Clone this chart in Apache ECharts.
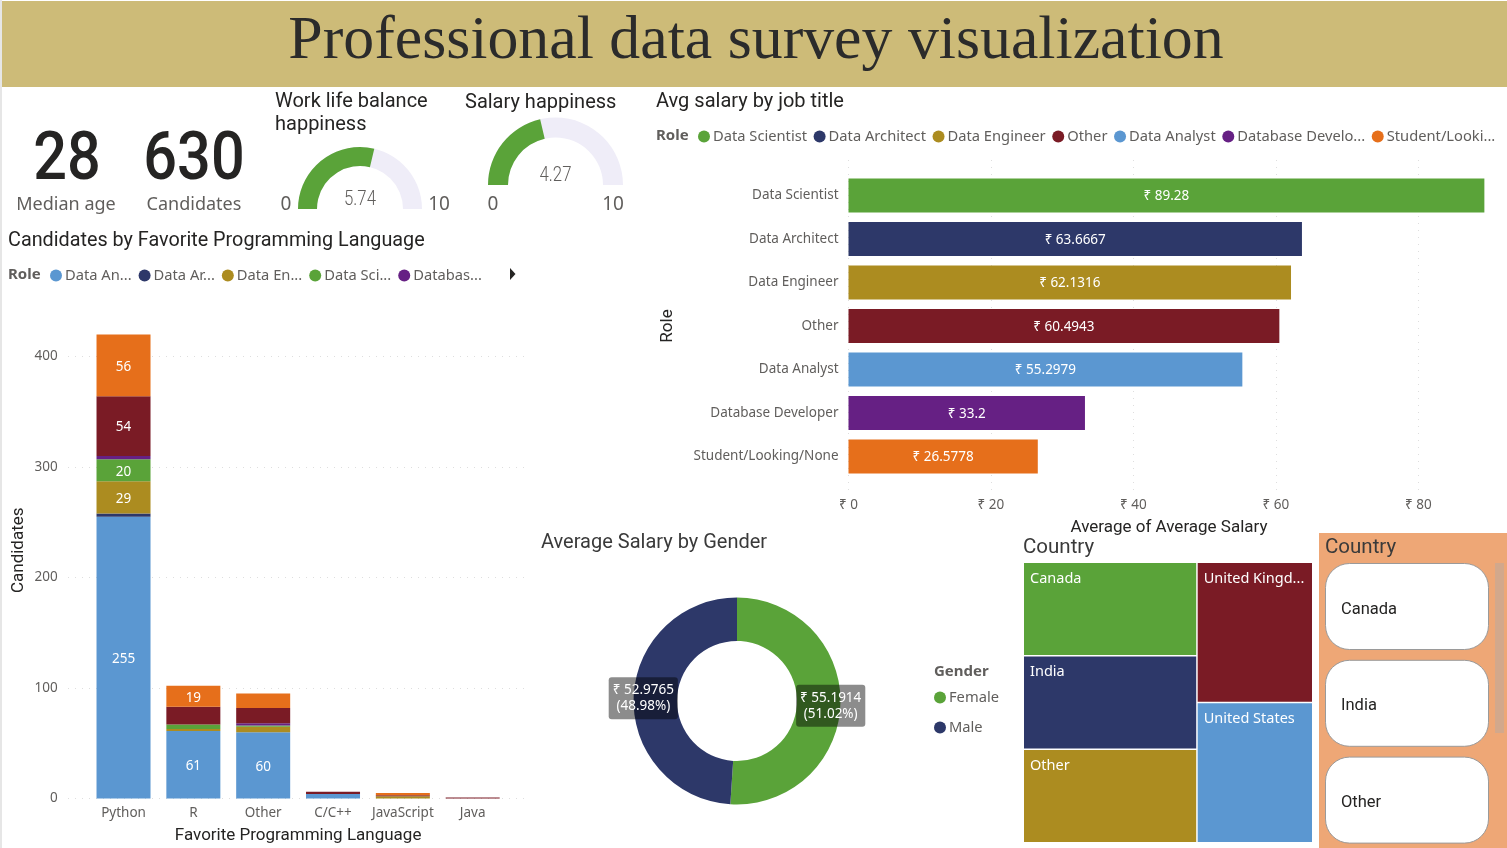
<!DOCTYPE html>
<html><head><meta charset="utf-8">
<style>html,body{margin:0;padding:0;background:#fff;overflow:hidden}#c{width:1507px;height:848px}</style>
<script src="https://cdn.jsdelivr.net/npm/echarts@6/dist/echarts.min.js"></script>
</head><body><div id="c"></div>
<script>
const roles=['Data Analyst','Data Architect','Data Engineer','Data Scientist','Database Developer','Other','Student/Looking/None'];
const roleColors=['#5B97D1','#2D3869','#AC8C20','#5AA339','#662084','#7A1B25','#E66F1B'];
const languages=['Python','R','Other','C/C++','JavaScript','Java'];
const analyst=[255,61,60,4,0,0];
const architect=[3,0,0,0,0,0];
const engineer=[29,2,5,0,2,0];
const scientist=[20,4,1,0,0,0];
const developer=[3,0,2,0,0,0];
const otherRole=[54,16,14,2,1,1];
const student=[56,19,13,0,2,0];
const stacks=[analyst,architect,engineer,scientist,developer,otherRole,student];
const jobOrder=['Data Scientist','Data Architect','Data Engineer','Other','Data Analyst','Database Developer','Student/Looking/None'];
const jobSalary=[89.28,63.6667,62.1316,60.4943,55.2979,33.2,26.5778];
const genders=['Female','Male'];
const genderSalary=[55.1914,52.9765];
const genderColors=['#5AA339','#2D3869'];
const countries=['Canada','India','Other','United Kingdom','United States'];
const countrySize=[15.9,15.9,15.9,15.9,15.9];
const countryColors=['#5AA339','#2D3869','#AC8C20','#7A1B25','#5B97D1'];
const countryShort={'United Kingdom':'United Kingd...'};
const slicerItems=['Canada','India','Other'];
const medianAge='28', candidates='630';
const workLife=5.74, salaryHappy=4.27;
const legendLeftShort={'Data Analyst':'Data An...','Data Architect':'Data Ar...','Data Engineer':'Data En...','Data Scientist':'Data Sci...','Database Developer':'Databas...'};
const legendTopShort={'Database Developer':'Database Develo...','Student/Looking/None':'Student/Looki...'};

const body='"Noto Sans"', din='Roboto';
const dark='#252423', grey='#605E5C';
function t(text,x,y,font,fill,align,extra){return Object.assign({type:'text',x:x,y:y,silent:true,z:5,style:{text:text,font:font,fill:fill,align:align||'left',verticalAlign:'middle'}},extra||{});}
const g=[];
g.push({type:'rect',shape:{x:0,y:0,width:1507,height:848},style:{fill:'#fff'},z:-10,silent:true});
g.push({type:'rect',shape:{x:0,y:0,width:2,height:848},style:{fill:'#E6E6E6'},z:-9,silent:true});
g.push({type:'rect',shape:{x:2,y:1,width:1505,height:86},style:{fill:'#CDBB78'},z:-9,silent:true});
g.push(t('Professional data survey visualization',756,42,'61.8px "Liberation Serif"','#2b2b2b','center'));
g.push(t(medianAge,67,162,'500 66px '+din,dark,'center',{scaleX:0.9}));
g.push(t(candidates,194,162,'500 66px '+din,dark,'center',{scaleX:0.9}));
g.push(t('Median age',66,205,'18px '+body,grey,'center'));
g.push(t('Candidates',194,205,'18px '+body,grey,'center'));
g.push(t('Work life balance',275,102,'20px '+din,dark));
g.push(t('happiness',275,125,'20px '+din,dark));
g.push(t('Salary happiness',465,103,'20px '+din,dark));
g.push(t('Avg salary by job title',656,102,'20px '+din,dark));
g.push(t('Candidates by Favorite Programming Language',8,241,'19.8px '+din,dark));
g.push(t('Average Salary by Gender',541,543,'20px '+din,'#3a3a3a'));
g.push(t('Country',1023,548,'20.5px '+din,'#3a3a3a'));
g.push(t('0',286,205,'19px '+body,grey,'center'));
g.push(t('10',439,205,'19px '+body,grey,'center'));
g.push(t('0',493,205,'19px '+body,grey,'center'));
g.push(t('10',613,205,'19px '+body,grey,'center'));
g.push(t(String(workLife),360,200,'300 21px '+din,grey,'center',{scaleX:0.8}));
g.push(t(String(salaryHappy),555.5,176,'300 21px '+din,grey,'center',{scaleX:0.8}));
g.push(t('Role',8,275,'bold 15px '+body,grey));
g.push(t('Role',656,136,'bold 15px '+body,grey));
g.push(t('Gender',934,672,'bold 15px '+body,grey));
g.push({type:'polygon',shape:{points:[[510,268],[510,280],[515.5,274]]},style:{fill:'#252423'},z:5,silent:true});
// slicer panel
g.push({type:'rect',shape:{x:1319,y:533,width:188,height:315},style:{fill:'#EEA776'},z:-8,silent:true});
g.push(t('Country',1325,548,'20.5px '+din,'#3a3a3a'));
g.push({type:'rect',shape:{x:1495,y:563,width:9,height:170},style:{fill:'#D2A88C'},z:-7,silent:true});
slicerItems.forEach(function(s,i){
  const y=563.5+i*96.8;
  g.push({type:'rect',shape:{x:1325.5,y:y,width:163,height:86,r:24},style:{fill:'#fff',stroke:'#9a9a9a',lineWidth:1},z:-7,silent:true});
  g.push(t(s,1341,y+46,'16.5px '+din,dark));
});

const series=[];
roles.forEach(function(r,i){
  series.push({name:r,type:'bar',stack:'lang',xAxisIndex:1,yAxisIndex:1,barWidth:54,data:stacks[i],
    itemStyle:{color:roleColors[i]},
    label:{show:true,position:'inside',color:'#fff',fontFamily:body,fontSize:13.5,offset:[0,1.5],
      formatter:function(p){return p.value>=19?String(p.value):'';}}});
});
jobOrder.forEach(function(r,i){
  const d=jobSalary.map(function(v,k){return k===i?v:null;});
  series.push({name:r,type:'bar',stack:'job',xAxisIndex:3,yAxisIndex:3,barWidth:34,data:d,
    itemStyle:{color:roleColors[roles.indexOf(r)]},
    label:{show:true,position:'inside',color:'#fff',fontFamily:body,fontSize:13.5,offset:[0,1],formatter:'₹ {c}'}});
});
function gauge(cx,cy,R,w,val){return {type:'gauge',center:[cx,cy],radius:R,startAngle:180,endAngle:0,min:0,max:10,
  progress:{show:true,width:w,itemStyle:{color:'#5AA339'}},
  axisLine:{lineStyle:{width:w,color:[[1,'#EFEDF8']]}},
  axisTick:{show:false},splitLine:{show:false},axisLabel:{show:false},pointer:{show:false},title:{show:false},anchor:{show:false},
  detail:{show:false},
  data:[{value:val}]};}
series.push(gauge(360,209,62,19,workLife));
series.push(gauge(555.5,185,67.5,20,salaryHappy));
series.push({type:'pie',name:'Average Salary by Gender',center:[737,701],radius:[60,103.5],startAngle:90,clockwise:true,
  data:genders.map(function(n,i){return {name:n,value:genderSalary[i],itemStyle:{color:genderColors[i]},
    label:{offset:[i===0?9:-9,i===0?2:0]}};}),
  label:{show:true,position:'inside',formatter:'₹ {c}\n({d}%)',color:'#fff',fontFamily:body,fontSize:13.5,lineHeight:16,
    backgroundColor:'rgba(0,0,0,0.45)',borderRadius:3,padding:[5,4,5,4]},
  labelLine:{show:false},emphasis:{disabled:true}});
series.push({type:'treemap',name:'Country',left:1024,top:563,width:288,height:279,roam:false,nodeClick:false,sort:false,
  breadcrumb:{show:false},
  itemStyle:{gapWidth:1.5,borderWidth:0},
  label:{show:true,position:'insideTopLeft',color:'#fff',fontFamily:body,fontSize:14.5,distance:6,padding:[2,0,0,0],
    formatter:function(p){return countryShort[p.name]||p.name;}},
  data:countries.map(function(n,i){return {name:n,value:countrySize[i],itemStyle:{color:countryColors[i]}};})});

const axisFont={color:grey,fontFamily:body,fontSize:13.5};
const dotted={show:true,lineStyle:{color:'#DEDEDE',type:[1,6],width:1}};
const noBounds={outerBoundsMode:'none'};
const opt={
  animation:false,
  textStyle:{fontFamily:body},
  graphic:{elements:g},
  tooltip:{show:false},
  legend:[
    {data:roles.slice(0,5),left:50,top:268,padding:0,itemWidth:12,itemHeight:12,itemGap:7,icon:'circle',selectedMode:false,
     textStyle:{color:grey,fontFamily:body,fontSize:14.7,padding:[0,0,0,-2]},formatter:function(n){return legendLeftShort[n];}},
    {data:jobOrder,left:698,top:129,padding:0,itemWidth:12,itemHeight:12,itemGap:6.6,icon:'circle',selectedMode:false,
     textStyle:{color:grey,fontFamily:body,fontSize:14.7,padding:[0,0,0,-2]},formatter:function(n){return legendTopShort[n]||n;}},
    {data:genders,orient:'vertical',left:934,top:690,padding:0,itemWidth:12,itemHeight:12,itemGap:15,icon:'circle',selectedMode:false,
     textStyle:{color:grey,fontFamily:body,fontSize:14.7,padding:[0,0,0,-2]}}
  ],
  grid:[
    Object.assign({left:68,top:302,width:460,height:496.5},noBounds),
    Object.assign({left:88.6,top:302,width:419,height:496.5},noBounds),
    Object.assign({left:848.5,top:160,width:641,height:330},noBounds),
    Object.assign({left:848.5,top:173.75,width:641,height:304.5},noBounds)
  ],
  xAxis:[
    {gridIndex:0,type:'value',show:false,min:0,max:1},
    {gridIndex:1,type:'category',data:languages,axisLine:{show:false},axisTick:{show:false},
     axisLabel:Object.assign({margin:8,interval:0},axisFont),
     name:'Favorite Programming Language',nameLocation:'middle',nameGap:29,nameTextStyle:{color:dark,fontFamily:din,fontSize:17}},
    {gridIndex:2,type:'value',min:0,max:90,interval:20,axisLine:{show:false},axisTick:{show:false},axisLabel:{show:false},splitLine:Object.assign({showMaxLine:false},dotted)},
    {gridIndex:3,type:'value',min:0,max:90,interval:20,axisLine:{show:false},axisTick:{show:false},splitLine:{show:false},
     axisLabel:Object.assign({margin:20,formatter:'₹ {value}',showMaxLabel:false},axisFont),
     name:'Average of Average Salary',nameLocation:'middle',nameGap:41,nameTextStyle:{color:dark,fontFamily:din,fontSize:17}}
  ],
  yAxis:[
    {gridIndex:0,type:'value',min:0,max:449.3,interval:100,axisLine:{show:false},axisTick:{show:false},axisLabel:{show:false},splitLine:Object.assign({showMaxLine:false},dotted)},
    {gridIndex:1,type:'value',min:0,max:449.3,interval:100,axisLine:{show:false},axisTick:{show:false},splitLine:{show:false},
     axisLabel:Object.assign({margin:31,showMaxLabel:false,padding:[3,0,0,0]},axisFont),
     name:'Candidates',nameLocation:'middle',nameGap:61,nameTextStyle:{color:dark,fontFamily:din,fontSize:17}},
    {gridIndex:2,type:'category',show:false,data:['a']},
    {gridIndex:3,type:'category',inverse:true,data:jobOrder,axisLine:{show:false},axisTick:{show:false},
     axisLabel:Object.assign({margin:10,interval:0,padding:[2,0,0,0]},axisFont),
     name:'Role',nameLocation:'middle',nameGap:172,nameTextStyle:{color:dark,fontFamily:din,fontSize:17}}
  ],
  series:series
};
const chart=echarts.init(document.getElementById('c'),null,{renderer:'canvas',width:1507,height:848});
chart.setOption(opt);
</script></body></html>
